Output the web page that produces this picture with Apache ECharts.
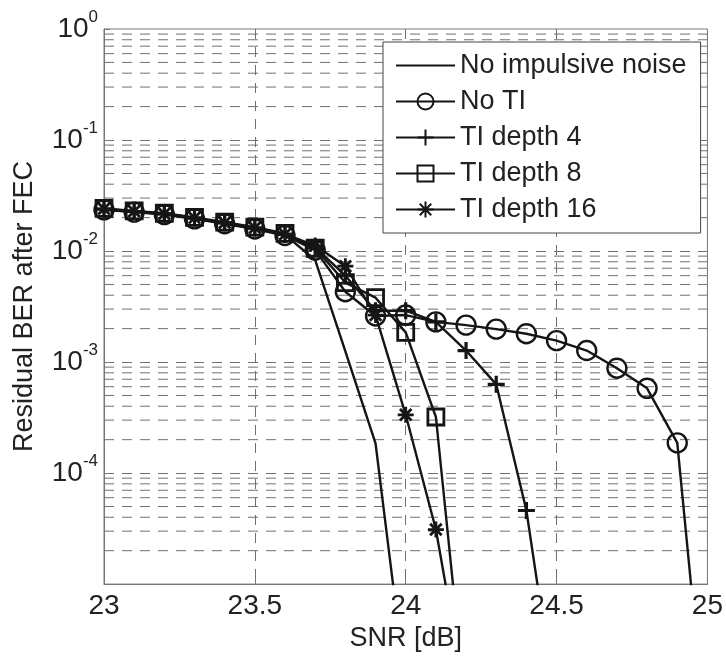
<!DOCTYPE html>
<html>
<head>
<meta charset="utf-8">
<script src="https://cdn.jsdelivr.net/npm/echarts@6/dist/echarts.min.js"></script>
<style>
  html, body { margin: 0; padding: 0; background: #fff; }
  #chart { width: 726px; height: 657px; }
</style>
</head>
<body>
<div id="chart"></div>
<script>
// SNR [dB] sample points
const snr = [23.0, 23.1, 23.2, 23.3, 23.4, 23.5, 23.6, 23.7, 23.8, 23.9, 24.0,
  24.1, 24.2, 24.3, 24.4, 24.5, 24.6, 24.7, 24.8, 24.9, 25.0];

// residual BER after FEC
const noImpulsive = [0.0237, 0.0226, 0.0215, 0.0197, 0.0178, 0.016, 0.014, 0.0083, 0.00125, 0.000185, 0.0000012];
const noTI = [0.0235, 0.0224, 0.0213, 0.0195, 0.0176, 0.0158, 0.0138, 0.0102, 0.0043, 0.0026, 0.00265,
  0.0023, 0.00215, 0.00198, 0.0018, 0.00156, 0.00127, 0.00088, 0.00058, 0.000187, 0.0000003];
const tiDepth4 = [0.0238, 0.0227, 0.0216, 0.0198, 0.0179, 0.0161, 0.0141, 0.0108, 0.006, 0.0029, 0.0029,
  0.0023, 0.00127, 0.00063, 0.000046, 0.0000007];
const tiDepth8 = [0.0242, 0.023, 0.0219, 0.0201, 0.0182, 0.0164, 0.0144, 0.0106, 0.0052, 0.0038, 0.00185,
  0.00032, 0.0000007];
const tiDepth16 = [0.024, 0.0228, 0.0217, 0.0199, 0.018, 0.0162, 0.0142, 0.0112, 0.0073, 0.00265, 0.000335,
  0.000031, 0.0000009];

const seriesNames = ["No impulsive noise", "No TI", "TI depth 4", "TI depth 8", "TI depth 16"];
const xTicks = [23, 23.5, 24, 24.5, 25];
const decades = [-5, -4, -3, -2, -1];

const ink = "#151515";
const gridGray = "#707070";
const font = "'Liberation Sans', Arial, sans-serif";

const pairs = (ys) => ys.map((y, i) => [snr[i], y]);

// minor log grid lines at 2..9 x 10^k, drawn as broken line segments
const minorGrid = [];
decades.forEach((k) => {
  for (let m = 2; m <= 9; m++) {
    const v = m * Math.pow(10, k);
    minorGrid.push([xTicks[0], v], [xTicks[xTicks.length - 1], v], "-");
  }
});

const plusPath = "path://M0,-1L0,1M-1,0L1,0";
const starPath = "path://M0,-1L0,1M-1,0L1,0M-0.72,-0.72L0.72,0.72M-0.72,0.72L0.72,-0.72";

const baseLine = {
  type: "line",
  showSymbol: true,
  clip: true,
  lineStyle: { color: ink, width: 2.4 },
  itemStyle: { color: "rgba(255,255,255,0)", borderColor: ink, borderWidth: 2.4 },
  emphasis: { disabled: true },
  z: 5,
};

const chart = echarts.init(document.getElementById("chart"));
const option = {
  animation: false,
  backgroundColor: "#fff",
  grid: {
    left: 104,
    top: 29,
    right: 15,
    bottom: 68,
    show: true,
    borderColor: "#777",
    borderWidth: 1,
  },
  legend: {
    data: seriesNames,
    orient: "vertical",
    left: 383,
    top: 42,
    padding: [10, 14, 10, 12],
    itemWidth: 59,
    itemHeight: 20,
    itemGap: 9,
    backgroundColor: "#fff",
    borderColor: "#444",
    borderWidth: 1,
    selectedMode: false,
    textStyle: { color: "#222", fontSize: 27, fontFamily: font, lineHeight: 22 },
  },
  xAxis: {
    type: "value",
    min: 23,
    max: 25,
    interval: 0.5,
    name: "SNR [dB]",
    nameLocation: "middle",
    nameGap: 36,
    nameTextStyle: { color: "#222", fontSize: 27, fontFamily: font },
    axisLine: { show: true, lineStyle: { color: "#777" } },
    axisTick: { show: true, inside: true, length: 6, lineStyle: { color: "#777" } },
    axisLabel: {
      color: "#222",
      fontSize: 28,
      fontFamily: font,
      margin: 8,
      formatter: (v) => (xTicks.indexOf(v) >= 0 ? String(v) : ""),
    },
    splitLine: {
      show: true,
      showMinLine: false,
      showMaxLine: false,
      lineStyle: { color: gridGray, type: [10, 8], width: 1 },
    },
  },
  yAxis: {
    type: "log",
    logBase: 10,
    min: 1e-5,
    max: 1,
    name: "Residual BER after FEC",
    nameLocation: "middle",
    nameGap: 66,
    nameTextStyle: { color: "#222", fontSize: 27, fontFamily: font },
    axisLine: { show: true, lineStyle: { color: "#777" } },
    axisTick: { show: true, inside: true, length: 6, lineStyle: { color: "#777" } },
    axisLabel: {
      margin: 6,
      formatter: (v) => {
        const e = Math.round(Math.log10(v));
        if (e <= -5) return "";
        return "{b|10}{s|" + e + "}";
      },
      rich: {
        b: { color: "#222", fontSize: 28, fontFamily: font, lineHeight: 40 },
        s: { color: "#222", fontSize: 17, fontFamily: font, lineHeight: 17, verticalAlign: "top" },
      },
    },
    splitLine: {
      show: true,
      showMinLine: false,
      showMaxLine: false,
      lineStyle: { color: gridGray, type: [10, 8], width: 1 },
    },
  },
  series: [
    {
      name: "minor-grid",
      type: "line",
      data: minorGrid,
      symbol: "none",
      silent: true,
      connectNulls: false,
      z: 1,
      lineStyle: { color: gridGray, type: [10, 8], width: 1 },
      emphasis: { disabled: true },
    },
    Object.assign({}, baseLine, {
      name: seriesNames[0],
      symbol: "none",
      itemStyle: { color: "rgba(255,255,255,0)", borderColor: "rgba(0,0,0,0)", borderWidth: 0 },
      data: pairs(noImpulsive),
    }),
    Object.assign({}, baseLine, {
      name: seriesNames[1],
      symbol: "circle",
      symbolSize: 19,
      data: pairs(noTI),
    }),
    Object.assign({}, baseLine, {
      name: seriesNames[2],
      symbol: plusPath,
      symbolSize: 17,
      itemStyle: { color: "rgba(255,255,255,0)", borderColor: ink, borderWidth: 3.2 },
      data: pairs(tiDepth4),
    }),
    Object.assign({}, baseLine, {
      name: seriesNames[3],
      symbol: "rect",
      symbolSize: 16,
      itemStyle: { color: "rgba(255,255,255,0)", borderColor: ink, borderWidth: 2.8 },
      data: pairs(tiDepth8),
    }),
    Object.assign({}, baseLine, {
      name: seriesNames[4],
      symbol: starPath,
      symbolSize: 16,
      itemStyle: { color: "rgba(255,255,255,0)", borderColor: ink, borderWidth: 2.8 },
      data: pairs(tiDepth16),
    }),
  ],
};
chart.setOption(option);
</script>
</body>
</html>
